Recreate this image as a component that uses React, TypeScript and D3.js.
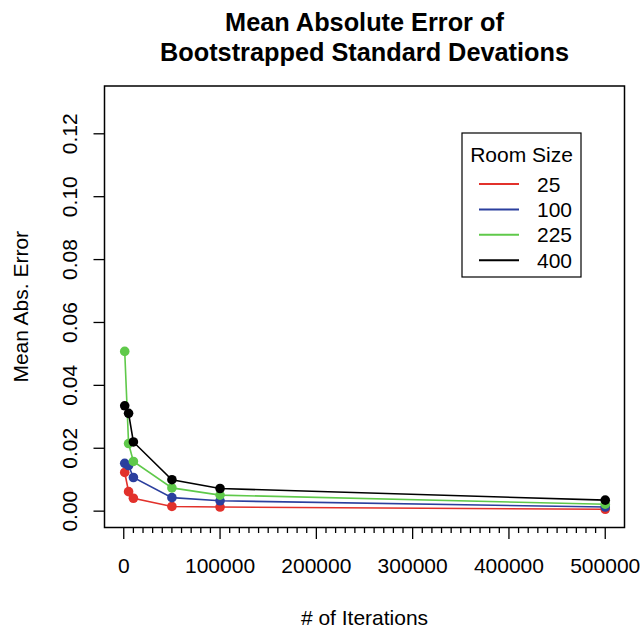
import React, { useRef, useEffect } from 'react';
import * as d3 from 'd3';

// iterations on the x axis
const iterations = [1000, 5000, 10000, 50000, 100000, 500000];

// mean abs. error per room size
const mae25 = [0.0123, 0.0062, 0.0041, 0.0015, 0.0013, 0.0006];
const mae100 = [0.0152, 0.0145, 0.0107, 0.0043, 0.0033, 0.0013];
const mae225 = [0.0508, 0.0215, 0.0158, 0.0074, 0.0051, 0.0022];
const mae400 = [0.0335, 0.0311, 0.0220, 0.0100, 0.0072, 0.0035];

const roomSizes = ['25', '100', '225', '400'];
const seriesColors = ['#e2312b', '#2b3f9e', '#5fc94a', '#000000'];

const yTicks = [0, 0.02, 0.04, 0.06, 0.08, 0.1, 0.12];
const xMajorTicks = [0, 100000, 200000, 300000, 400000, 500000];

const FONT = '"Liberation Sans", Arial, Helvetica, sans-serif';
const FS = 21; // base font size
const TITLE_FS = 25.3;

const App = () => {
  const svgRef = useRef<SVGSVGElement>(null);

  useEffect(() => {
    const svg = d3.select(svgRef.current);
    svg.selectAll('*').remove();

    const width = 644;
    const height = 628;
    const box = { left: 104.5, right: 624.5, top: 86, bottom: 527.5 };

    // R style 4% padding around the data range
    const x = d3.scaleLinear().domain([-20000, 520000]).range([box.left, box.right]);
    const y = d3.scaleLinear().domain([-0.0052, 0.1352]).range([box.bottom, box.top]);

    svg.attr('width', width).attr('height', height).style('font-family', FONT);

    svg.append('rect').attr('width', width).attr('height', height).attr('fill', '#fff');

    // title
    const title = svg
      .append('text')
      .attr('text-anchor', 'middle')
      .attr('font-weight', 'bold')
      .attr('font-size', TITLE_FS);
    title.append('tspan').attr('x', (box.left + box.right) / 2).attr('y', 31).text('Mean Absolute Error of');
    title.append('tspan').attr('x', (box.left + box.right) / 2).attr('y', 61).text('Bootstrapped Standard Devations');

    // y axis
    const yAxis = svg.append('g');
    yTicks.forEach((t) => {
      yAxis
        .append('line')
        .attr('x1', box.left - 11)
        .attr('x2', box.left)
        .attr('y1', y(t))
        .attr('y2', y(t))
        .attr('stroke', '#000')
        .attr('stroke-width', 1.3);
      yAxis
        .append('text')
        .attr('transform', `translate(76.5,${y(t)}) rotate(-90)`)
        .attr('text-anchor', 'middle')
        .attr('font-size', FS)
        .text(d3.format('.2f')(t));
    });
    yAxis
      .append('line')
      .attr('x1', box.left)
      .attr('x2', box.left)
      .attr('y1', y(0))
      .attr('y2', y(0.12))
      .attr('stroke', '#000');

    svg
      .append('text')
      .attr('transform', `translate(28,${(box.top + box.bottom) / 2}) rotate(-90)`)
      .attr('text-anchor', 'middle')
      .attr('font-size', FS)
      .text('Mean Abs. Error');

    // x axis: minor ticks every 10000, labels every 100000
    const xAxis = svg.append('g');
    d3.range(0, 500001, 10000).forEach((t) => {
      const major = t % 100000 === 0;
      xAxis
        .append('line')
        .attr('x1', x(t))
        .attr('x2', x(t))
        .attr('y1', box.bottom)
        .attr('y2', box.bottom + (major ? 11.5 : 5.5))
        .attr('stroke', '#000')
        .attr('stroke-width', 1.3);
    });
    xMajorTicks.forEach((t) => {
      xAxis
        .append('text')
        .attr('x', x(t))
        .attr('y', 573)
        .attr('text-anchor', 'middle')
        .attr('font-size', FS)
        .text(String(t));
    });

    svg
      .append('text')
      .attr('x', (box.left + box.right) / 2)
      .attr('y', 625)
      .attr('text-anchor', 'middle')
      .attr('font-size', FS)
      .text('# of Iterations');

    // series
    const allSeries = [mae25, mae100, mae225, mae400];
    const line = d3
      .line<number>()
      .x((_, i) => x(iterations[i]))
      .y((d) => y(d));

    allSeries.forEach((vals, s) => {
      const g = svg.append('g');
      g.append('path')
        .attr('d', line(vals))
        .attr('fill', 'none')
        .attr('stroke', seriesColors[s])
        .attr('stroke-width', 1.6);
      g.selectAll('circle')
        .data(vals)
        .join('circle')
        .attr('cx', (_, i) => x(iterations[i]))
        .attr('cy', (d) => y(d))
        .attr('r', 4.8)
        .attr('fill', seriesColors[s]);
    });

    // plot frame
    svg
      .append('rect')
      .attr('x', box.left)
      .attr('y', box.top)
      .attr('width', box.right - box.left)
      .attr('height', box.bottom - box.top)
      .attr('fill', 'none')
      .attr('stroke', '#000')
      .attr('stroke-width', 1.5);

    // legend
    const legend = svg.append('g');
    legend
      .append('rect')
      .attr('x', 462)
      .attr('y', 133)
      .attr('width', 119)
      .attr('height', 144)
      .attr('fill', '#fff')
      .attr('stroke', '#000')
      .attr('stroke-width', 1.2);
    legend
      .append('text')
      .attr('x', 521.5)
      .attr('y', 162)
      .attr('text-anchor', 'middle')
      .attr('font-size', FS)
      .text('Room Size');
    roomSizes.forEach((r, i) => {
      const ly = 184 + i * 25.4;
      legend
        .append('line')
        .attr('x1', 479)
        .attr('x2', 519)
        .attr('y1', ly)
        .attr('y2', ly)
        .attr('stroke', seriesColors[i])
        .attr('stroke-width', 2);
      legend
        .append('text')
        .attr('x', 537)
        .attr('y', ly + 7.5)
        .attr('font-size', FS)
        .text(r);
    });

    return () => {
      svg.selectAll('*').remove();
    };
  }, []);

  return (
    <div style={{ position: 'absolute', left: 0, top: 0 }}>
      <svg ref={svgRef} style={{ display: 'block' }} />
    </div>
  );
};

export default App;
